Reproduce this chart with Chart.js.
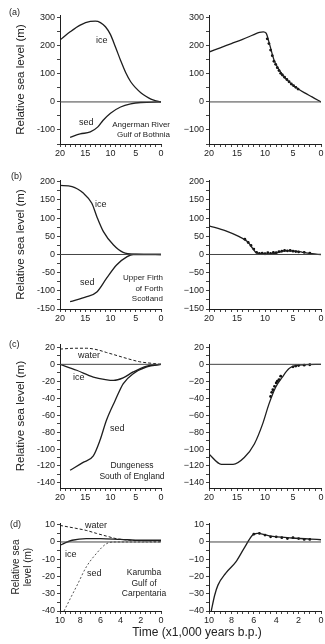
<!DOCTYPE html>
<html>
<head>
<meta charset="utf-8">
<script src="https://cdn.jsdelivr.net/npm/chart.js@4"></script>
<style>
  body { margin: 0; background: #fff; width: 325px; height: 644px; position: relative; overflow: hidden;
         font-family: "Liberation Sans", Arial, sans-serif; color: #222; }
  canvas { position: absolute; }
  .t { position: absolute; font-size: 9px; line-height: 1; white-space: nowrap; }
  .blk { position: absolute; font-size: 8.5px; line-height: 10.5px; white-space: nowrap; }
</style>
</head>
<body>
<script>
// tick labels
const yearsLong = [20, 15, 10, 5, 0];
const yearsShort = [10, 8, 6, 4, 2, 0];
const levelsA = [-100, 0, 100, 200, 300];
const levelsB = [-150, -100, -50, 0, 50, 100, 150, 200];
const levelsC = [-140, -120, -100, -80, -60, -40, -20, 0, 20];
const levelsD = [-40, -30, -20, -10, 0, 10];

// (a) Angerman River, Gulf of Bothnia  [kyr b.p., m]
const aIce = [[20, 221], [18, 250], [16, 274], [14, 287], [13, 288], [12, 283], [11, 268], [10, 240],
  [9, 195], [8, 148], [7, 105], [6, 72], [5, 50], [4, 33], [3, 20], [2, 10], [1, 4], [0, 0]];
const aSed = [[18, -126], [16, -114], [14, -107], [12.5, -89], [11.5, -66], [10, -40], [8, -18],
  [6, -7], [4, -2], [0, 0]];
const aModel = [[20, 178], [18, 193], [16, 208], [14, 223], [12, 240], [11, 248], [10.3, 250], [9.8, 245],
  [9.3, 214], [8.4, 150], [7.5, 115], [6.6, 90], [5.5, 68], [4.3, 50], [3, 33], [1.6, 18], [0, 0]];
const aObs = [[9.6, 225], [9.3, 208], [9, 185], [8.7, 165], [8.4, 145], [8.1, 134], [7.8, 122], [7.5, 112],
  [7.2, 102], [6.9, 96], [6.5, 88], [6.1, 80], [5.7, 72], [5.3, 64], [4.9, 58], [4.5, 52], [4.1, 46]];

// (b) Upper Firth of Forth, Scotland
const bIce = [[20, 190], [17.6, 187], [15.4, 169], [13.7, 141], [12.7, 104], [11.4, 63], [9.4, 26],
  [7.5, 6], [5, 1], [0, 0]];
const bSed = [[18, -130], [14.7, -116], [12.7, -103], [10.8, -66], [8.8, -29], [6.7, -6], [5.5, 0], [0, 0]];
const bModel = [[20, 79], [17, 65], [14.6, 49], [13.1, 35], [12.2, 17], [11.6, 5], [10.5, 2], [9.2, 1],
  [8, 4], [6.3, 10], [5.1, 10], [3.3, 6], [1.6, 2], [0, 0]];
const bObs = [[13.6, 42], [13, 33], [12.5, 25], [12, 15], [11.5, 6], [11, 3], [10.5, 4], [10, 2], [9.5, 5],
  [9, 3], [8.5, 6], [8, 5], [7.5, 8], [7, 9], [6.5, 11], [6, 10], [5.5, 11], [5, 9], [4.5, 8], [4, 7], [3, 6], [2, 4]];

// (c) Dungeness, South of England
const cWater = [[20, 18], [17, 19], [14.7, 19], [12.5, 17], [10.8, 14], [8.5, 10], [6.8, 7], [4.2, 3], [1.5, 1], [0, 0]];
const cIce = [[20, 0], [16.7, -7], [13.4, -15], [11, -18], [9.4, -19], [7.5, -16], [5.5, -9], [2.8, -2], [0, 0]];
const cSed = [[18, -125], [15.5, -116], [13.4, -108], [12.1, -90], [10.8, -66], [9.1, -43], [7.5, -23],
  [5.5, -11], [2.8, -3], [0, 0]];
const cModel = [[20, -106], [17.8, -118], [15.7, -118], [13.7, -110], [11.9, -94], [10.4, -70], [9.3, -47],
  [8.1, -27], [6.9, -15], [5.7, -5], [3.9, -1], [0, 0]];
const cObs = [[9, -38], [8.8, -33], [8.6, -30], [8.3, -26], [8, -22], [7.8, -20], [7.5, -18], [7.2, -14],
  [5, -3], [4.5, -2], [4, -1.5], [3, -1], [2, -0.5]];

// (d) Karumba, Gulf of Carpentaria
const dWater = [[10, 9.6], [8.5, 8], [7.4, 6.7], [6.4, 5], [5.4, 3.4], [4.4, 1.9], [3, 1], [0, 0.5]];
const dIce = [[10, -2], [9.5, -0.5], [8.8, 1], [7.4, 2], [6, 2], [4, 1.5], [2, 1], [0, 1]];
const dSed = [[9.6, -40], [9, -33], [8.3, -25], [7.4, -14.5], [6.4, -6.7], [5.4, -1], [4.5, 0], [0, 0]];
const dModel = [[9.8, -40], [9.5, -31], [9.2, -25], [8.5, -18], [7.6, -11.5], [6.9, -4], [6.1, 4], [5.7, 5],
  [4.6, 3.5], [2.6, 2.3], [0, 1.3]];
const dObs = [[6, 4.5], [5.5, 5], [5, 4], [4.5, 3], [4, 3], [3.5, 2.5], [3, 2], [2.5, 2.5], [2, 2], [1.5, 1.5], [1, 1.5]];

const LEFT = { left: 0, width: 172, yw: 60, padR: 11 };
const RIGHT = { left: 172, width: 153, yw: 37, padR: 3 };
const INK = '#1e1e1e';

function pts(arr) { return arr.map(p => ({ x: p[0], y: p[1] })); }

function steps(lo, hi, step) {
  const out = [];
  const n = Math.round((hi - lo) / step);
  for (let i = 0; i <= n; i++) out.push(Math.round((lo + i * step) * 100) / 100);
  return out;
}

function curve(data, extra) {
  return Object.assign({
    data: pts(data), borderColor: INK, borderWidth: 1.3, pointRadius: 0,
    cubicInterpolationMode: 'monotone', fill: false
  }, extra || {});
}

function dots(data) {
  return { data: pts(data), showLine: false, pointRadius: 1.4, pointBackgroundColor: '#111', pointBorderWidth: 0 };
}

function panel(p) {
  const col = p.right ? RIGHT : LEFT;
  const cv = document.createElement('canvas');
  const h = p.plotB - p.plotT + 25;
  cv.width = col.width; cv.height = h;
  cv.style.left = col.left + 'px';
  cv.style.top = (p.plotT - 8) + 'px';
  cv.style.width = col.width + 'px';
  cv.style.height = h + 'px';
  document.body.appendChild(cv);

  const zero = curve([[p.xMax, 0], [0, 0]], { borderColor: '#444', borderWidth: 1, cubicInterpolationMode: 'default' });
  const fmt = v => (p.right && v < 0) ? '\u2212' + Math.abs(v) : String(v);

  new Chart(cv, {
    type: 'line',
    data: { datasets: [zero].concat(p.datasets) },
    options: {
      responsive: false, animation: false, devicePixelRatio: 1,
      layout: { padding: { top: 8, right: col.padR, bottom: 0, left: 0 } },
      plugins: { legend: { display: false }, tooltip: { enabled: false } },
      scales: {
        x: {
          type: 'linear', reverse: true, min: 0, max: p.xMax,
          afterBuildTicks: s => { s.ticks = steps(0, p.xMax, p.xMinor).map(v => ({ value: v })); },
          ticks: {
            autoSkip: false, maxRotation: 0, padding: 1, color: '#222',
            font: { size: 9, family: '"Liberation Sans", Arial, sans-serif' },
            callback: v => p.xLabels.includes(v) ? String(v) : ''
          },
          grid: { drawOnChartArea: false, tickLength: 3, color: '#444' },
          border: { color: INK, width: 1 },
          afterFit: s => { s.height = 17; }
        },
        y: {
          type: 'linear', min: p.yMin, max: p.yMax,
          afterBuildTicks: s => { s.ticks = steps(p.yMinorFrom, p.yMax, p.yMinor).map(v => ({ value: v })); },
          ticks: {
            autoSkip: false, padding: 2, color: '#222',
            font: { size: 9, family: '"Liberation Sans", Arial, sans-serif' },
            callback: v => p.yLabels.includes(v) ? fmt(v) : ''
          },
          grid: { drawOnChartArea: false, tickLength: 3, color: '#444' },
          border: { color: INK, width: 1 },
          title: p.right ? { display: false } : {
            display: true, text: p.title, color: '#222',
            font: { size: p.titleSize, family: '"Liberation Sans", Arial, sans-serif' },
            padding: { top: p.titlePad, bottom: 0 }
          },
          afterFit: s => { s.width = col.yw; }
        }
      }
    }
  });
}

const geoA = { plotT: 15, plotB: 144, yMin: -150, yMax: 310, yMinorFrom: -150, yMinor: 50, yLabels: levelsA,
  xMax: 20, xMinor: 1, xLabels: yearsLong, title: 'Relative sea level (m)', titleSize: 11.5, titlePad: 14 };
const geoB = { plotT: 180, plotB: 309, yMin: -150, yMax: 205, yMinorFrom: -150, yMinor: 25, yLabels: levelsB,
  xMax: 20, xMinor: 1, xLabels: yearsLong, title: 'Relative sea level (m)', titleSize: 11.5, titlePad: 14 };
const geoC = { plotT: 344, plotB: 488, yMin: -146, yMax: 24, yMinorFrom: -140, yMinor: 10, yLabels: levelsC,
  xMax: 20, xMinor: 1, xLabels: yearsLong, title: 'Relative sea level (m)', titleSize: 11.5, titlePad: 14 };
const geoD = { plotT: 523, plotB: 611, yMin: -40, yMax: 11, yMinorFrom: -40, yMinor: 5, yLabels: levelsD,
  xMax: 10, xMinor: 0.5, xLabels: yearsShort, title: ['Relative sea', 'level (m)'], titleSize: 10, titlePad: 10 };

panel(Object.assign({}, geoA, { datasets: [curve(aIce), curve(aSed)] }));
panel(Object.assign({}, geoA, { right: true, datasets: [curve(aModel), dots(aObs)] }));
panel(Object.assign({}, geoB, { datasets: [curve(bIce), curve(bSed)] }));
panel(Object.assign({}, geoB, { right: true, datasets: [curve(bModel), dots(bObs)] }));
panel(Object.assign({}, geoC, { datasets: [curve(cWater, { borderDash: [3, 2], borderWidth: 1 }), curve(cIce), curve(cSed)] }));
panel(Object.assign({}, geoC, { right: true, datasets: [curve(cModel), dots(cObs)] }));
panel(Object.assign({}, geoD, { datasets: [curve(dWater, { borderDash: [3, 2], borderWidth: 1 }), curve(dIce),
  curve(dSed, { borderDash: [2, 2], borderWidth: 1, borderColor: '#555' })] }));
panel(Object.assign({}, geoD, { right: true, datasets: [curve(dModel), dots(dObs)] }));
</script>

<div class="t" style="left:9px;top:8px">(a)</div>
<div class="t" style="left:96px;top:36px">ice</div>
<div class="t" style="left:79px;top:118px">sed</div>
<div class="blk" style="right:155px;top:120px;text-align:right;font-size:8px;line-height:10px">Angerman River<br>Gulf of Bothnia</div>

<div class="t" style="left:11px;top:172px">(b)</div>
<div class="t" style="left:95px;top:200px">ice</div>
<div class="t" style="left:80px;top:278px">sed</div>
<div class="blk" style="right:162px;top:273px;text-align:right;font-size:8px;line-height:10.5px">Upper Firth<br>of Forth<br>Scotland</div>

<div class="t" style="left:9px;top:340px">(c)</div>
<div class="t" style="left:78px;top:351px">water</div>
<div class="t" style="left:73px;top:373px">ice</div>
<div class="t" style="left:110px;top:424px">sed</div>
<div class="blk" style="left:92px;width:80px;top:460px;text-align:center">Dungeness<br>South of England</div>

<div class="t" style="left:10px;top:520px">(d)</div>
<div class="t" style="left:85px;top:521px">water</div>
<div class="t" style="left:65px;top:550px">ice</div>
<div class="t" style="left:87px;top:569px">sed</div>
<div class="blk" style="left:114px;width:60px;top:567px;text-align:center">Karumba<br>Gulf of<br>Carpentaria</div>

<div class="t" style="left:0;width:394px;top:626px;text-align:center;font-size:12px">Time (x1,000 years b.p.)</div>
</body>
</html>
